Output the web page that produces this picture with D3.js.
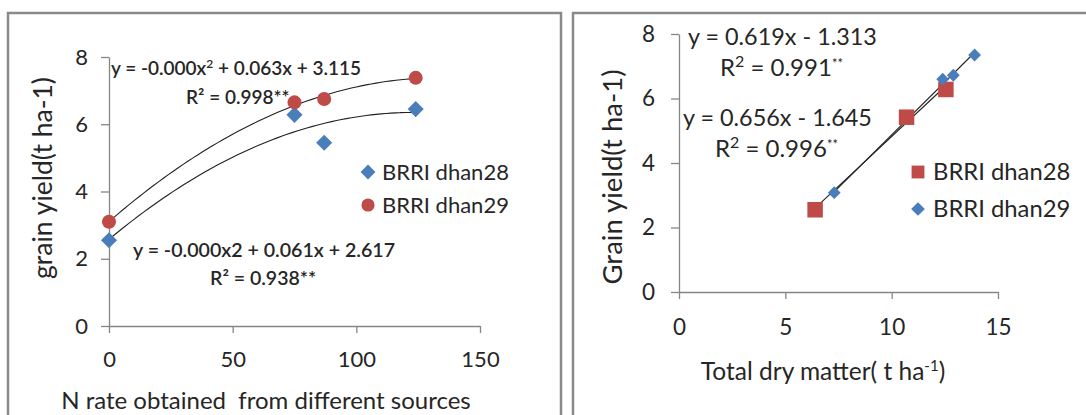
<!DOCTYPE html>
<html>
<head>
<meta charset="utf-8">
<script src="https://cdn.jsdelivr.net/npm/d3@7"></script>
<style>
  body { margin: 0; background: #fff; }
  text { font-family: Lato, "Open Sans", sans-serif; fill: #262626; }
</style>
</head>
<body>
<div id="chart-area"></div>
<script>
// left chart: N rate vs grain yield
let nRate = [0, 75, 87, 124];
let yield28 = [2.55, 6.28, 5.45, 6.45];
let yield29 = [3.1, 6.65, 6.75, 7.38];
let nTicks = [0, 50, 100, 150];
let yTicks = [0, 2, 4, 6, 8];

// right chart: total dry matter vs grain yield
let tdm28 = [6.4, 10.7, 12.55];
let gy28 = [2.55, 5.42, 6.28];
let tdm29 = [7.3, 12.4, 12.9, 13.9];
let gy29 = [3.08, 6.6, 6.72, 7.35];
let tdmTicks = [0, 5, 10, 15];

let seriesNames = ["BRRI dhan28", "BRRI dhan29"];
let blue = "#4a7ebb", red = "#be4b48";

let svg = d3.select("#chart-area").append("svg")
	.attr("width", 1086)
	.attr("height", 415);

// panel borders
svg.append("rect").attr("x", 8).attr("y", 13).attr("width", 553).attr("height", 420)
	.attr("fill", "none").attr("stroke", "#8a8a8a").attr("stroke-width", 2.5);
svg.append("rect").attr("x", 573).attr("y", 13).attr("width", 540).attr("height", 420)
	.attr("fill", "none").attr("stroke", "#8a8a8a").attr("stroke-width", 2.5);

// least squares fit, degree 1 or 2
function polyFit(xs, ys, deg) {
	let n = deg + 1;
	let A = [], b = [];
	for (let i = 0; i < n; i++) {
		A.push([]);
		for (let j = 0; j < n; j++) A[i].push(d3.sum(xs, (x) => Math.pow(x, i + j)));
		b.push(d3.sum(xs, (x, k) => ys[k] * Math.pow(x, i)));
	}
	// gauss elimination
	for (let i = 0; i < n; i++) {
		for (let r = i + 1; r < n; r++) {
			let f = A[r][i] / A[i][i];
			for (let c = i; c < n; c++) A[r][c] -= f * A[i][c];
			b[r] -= f * b[i];
		}
	}
	let coef = new Array(n).fill(0);
	for (let i = n - 1; i >= 0; i--) {
		let s = b[i];
		for (let c = i + 1; c < n; c++) s -= A[i][c] * coef[c];
		coef[i] = s / A[i][i];
	}
	return (x) => coef.reduce((acc, c, i) => acc + c * Math.pow(x, i), 0);
}

function drawAxes(g, x, y, xt, yt, fs, xPad, yPad) {
	let ax = g.append("g").attr("transform", "translate(0," + y(0) + ")")
		.call(d3.axisBottom(x).tickValues(xt).tickSize(7).tickSizeOuter(0).tickPadding(xPad));
	let ay = g.append("g").attr("transform", "translate(" + x(0) + ",0)")
		.call(d3.axisLeft(y).tickValues(yt).tickSize(8).tickSizeOuter(0).tickPadding(yPad));
	[ax, ay].forEach((a) => {
		a.selectAll("path, line").attr("stroke", "#868686").attr("stroke-width", 1.3);
		a.selectAll("text").attr("font-size", fs).attr("font-family", "Lato").attr("fill", "#262626");
	});
}

let diamond = d3.symbol().type(d3.symbolDiamond2);
let square = d3.symbol().type(d3.symbolSquare);
let circle = d3.symbol().type(d3.symbolCircle);

// ---------- left chart ----------
let g1 = svg.append("g");
let x1 = d3.scaleLinear().domain([0, 150]).range([109, 480]);
let y1 = d3.scaleLinear().domain([0, 8]).range([326, 57]);
drawAxes(g1, x1, y1, nTicks, yTicks, 22, 18, 13);

let curve = d3.line().x((d) => x1(d[0])).y((d) => y1(d[1])).curve(d3.curveBasis);
[yield28, yield29].forEach((ys) => {
	let f = polyFit(nRate, ys, 2);
	let pts = d3.range(0, 124.01, 2).map((v) => [v, f(v)]);
	g1.append("path").attr("d", curve(pts)).attr("fill", "none")
		.attr("stroke", "#222").attr("stroke-width", 1.1);
});

g1.selectAll(".p28").data(nRate).enter().append("path")
	.attr("d", diamond.size(165))
	.attr("transform", (d, i) => "translate(" + x1(d) + "," + y1(yield28[i]) + ")")
	.attr("fill", blue);
g1.selectAll(".p29").data(nRate).enter().append("path")
	.attr("d", circle.size(155))
	.attr("transform", (d, i) => "translate(" + x1(d) + "," + y1(yield29[i]) + ")")
	.attr("fill", red);

// equations
let eq = g1.append("text").attr("x", 111).attr("y", 75).attr("font-size", 19).attr("font-weight", 600).attr("fill", "#1a1a1a");
eq.append("tspan").text("y = -0.000x");
eq.append("tspan").text("2").attr("baseline-shift", "super").attr("font-size", 12);
eq.append("tspan").text(" + 0.063x + 3.115");
g1.append("text").attr("x", 186).attr("y", 104).attr("font-size", 19).attr("font-weight", 600).attr("fill", "#1a1a1a")
	.text("R² = 0.998**");
g1.append("text").attr("x", 133).attr("y", 257).attr("font-size", 19.6).attr("font-weight", 600).attr("fill", "#1a1a1a")
	.text("y = -0.000x2 + 0.061x + 2.617");
g1.append("text").attr("x", 210).attr("y", 285).attr("font-size", 19.5).attr("font-weight", 600).attr("fill", "#1a1a1a")
	.text("R² = 0.938**");

// legend
let lg1 = g1.append("g");
lg1.append("path").attr("d", diamond.size(140)).attr("transform", "translate(368,172)").attr("fill", blue);
lg1.append("path").attr("d", circle.size(135)).attr("transform", "translate(368,205)").attr("fill", red);
lg1.append("text").attr("x", 382).attr("y", 180).attr("font-size", 22).text(seriesNames[0]);
lg1.append("text").attr("x", 382).attr("y", 213).attr("font-size", 22).text(seriesNames[1]);

// titles
g1.append("text").attr("x", 266).attr("y", 409).attr("text-anchor", "middle").attr("font-size", 24)
	.attr("xml:space", "preserve").text("N rate obtained  from different sources");
g1.append("text").attr("transform", "translate(52,178) rotate(-90)").attr("text-anchor", "middle").attr("font-size", 26.5)
	.text("grain yield(t ha-1)");

// ---------- right chart ----------
let g2 = svg.append("g");
let x2 = d3.scaleLinear().domain([0, 15]).range([679, 998]);
let y2 = d3.scaleLinear().domain([0, 8]).range([292, 34]);
drawAxes(g2, x2, y2, tdmTicks, yTicks, 22.5, 20, 16);

let line2 = d3.line().x((d) => x2(d[0])).y((d) => y2(d[1]));
[[tdm28, gy28], [tdm29, gy29]].forEach(([xs, ys]) => {
	let f = polyFit(xs, ys, 1);
	let ext = d3.extent(xs);
	g2.append("path").attr("d", line2(ext.map((v) => [v, f(v)])))
		.attr("stroke", "#222").attr("stroke-width", 1.1).attr("fill", "none");
});

g2.selectAll(".q28").data(tdm28).enter().append("path")
	.attr("d", square.size(240))
	.attr("transform", (d, i) => "translate(" + x2(d) + "," + y2(gy28[i]) + ")")
	.attr("fill", red);
g2.selectAll(".q29").data(tdm29).enter().append("path")
	.attr("d", diamond.size(105))
	.attr("transform", (d, i) => "translate(" + x2(d) + "," + y2(gy29[i]) + ")")
	.attr("fill", blue);

function rsq(x, y, val) {
	let t = g2.append("text").attr("x", x).attr("y", y).attr("font-size", 24);
	t.append("tspan").text("R");
	t.append("tspan").text("2").attr("baseline-shift", "super").attr("font-size", 16);
	t.append("tspan").text(" = " + val);
	t.append("tspan").text("**").attr("baseline-shift", "super").attr("font-size", 13);
}
g2.append("text").attr("x", 688).attr("y", 45).attr("font-size", 23.4).text("y = 0.619x - 1.313");
rsq(720, 76, "0.991");
g2.append("text").attr("x", 683).attr("y", 126).attr("font-size", 23.4).text("y = 0.656x - 1.645");
rsq(715, 157, "0.996");

let lg2 = g2.append("g");
lg2.append("path").attr("d", square.size(165)).attr("transform", "translate(918,172)").attr("fill", red);
lg2.append("path").attr("d", diamond.size(120)).attr("transform", "translate(918,209)").attr("fill", blue);
lg2.append("text").attr("x", 933).attr("y", 180).attr("font-size", 23.8).text(seriesNames[0]);
lg2.append("text").attr("x", 933).attr("y", 217).attr("font-size", 23.8).text(seriesNames[1]);

g2.append("text").attr("x", 823).attr("y", 380).attr("text-anchor", "middle").attr("font-size", 24.5)
	.call((t) => {
		t.append("tspan").text("Total dry matter( t ha");
		t.append("tspan").text("-1").attr("baseline-shift", "super").attr("font-size", 15);
		t.append("tspan").text(")");
	});
g2.append("text").attr("transform", "translate(622,177) rotate(-90)").attr("text-anchor", "middle").attr("font-size", 27.5)
	.text("Grain yield(t ha-1)");
</script>
</body>
</html>
